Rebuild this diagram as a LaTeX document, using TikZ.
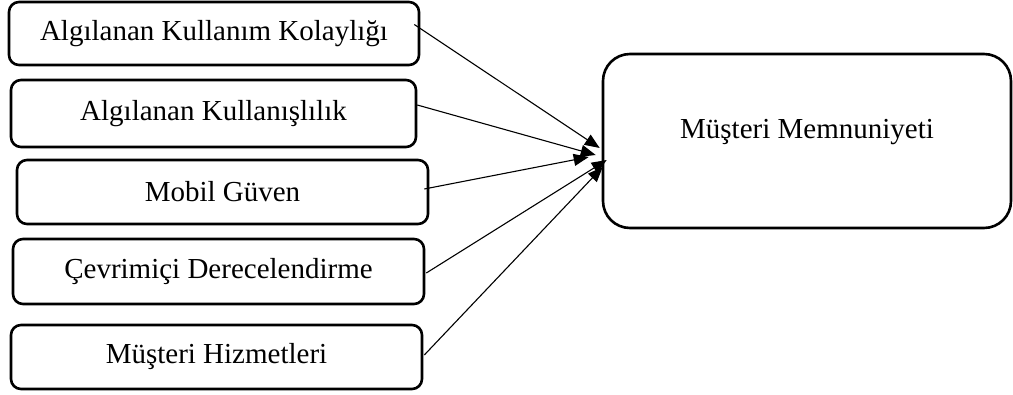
\documentclass[tikz,border=0pt]{standalone}
\usepackage{fontspec}
\setmainfont{Liberation Serif}
\usepackage{tikz}
\usetikzlibrary{arrows.meta, positioning}
\tikzset{
  srcbox/.style={draw=black, line width=2.6pt, rounded corners=10pt,
                 fill=white, minimum width=410pt, minimum height=64pt,
                 inner sep=0pt, font=\fontsize{29}{33}\selectfont},
  tgtbox/.style={draw=black, line width=2.6pt, rounded corners=27pt,
                 fill=white, minimum width=408pt, minimum height=174pt,
                 inner sep=0pt, text depth=24pt,
                 font=\fontsize{29}{33}\selectfont},
  link/.style={draw=black, line width=1.1pt,
               -{Triangle[length=15pt, width=12pt]}},
}
\begin{document}
\begin{tikzpicture}[x=1pt, y=-1pt]
    \useasboundingbox (0,0) rectangle (1013,394);
    %% Factor boxes
    \node[srcbox, minimum width=410pt, minimum height=63pt] (b1) at (214,33.5) {Algılanan Kullanım Kolaylığı};
    \node[srcbox, minimum width=405pt, minimum height=67pt] (b2) at (213.5,113.5) {Algılanan Kullanışlılık};
    \node[srcbox, minimum width=411pt] (b3) at (222.5,192) {Mobil Güven};
    \node[srcbox, minimum width=411pt, minimum height=65pt] (b4) at (218.5,271.5) {Çevrimiçi Derecelendirme};
    \node[srcbox, minimum width=411pt] (b5) at (216.5,357) {Müşteri Hizmetleri};
    %% Outcome box
    \node[tgtbox] (mm) at (807,141) {Müşteri Memnuniyeti};
    %% Arrow ends
    \foreach \i/\sx/\sy/\tx/\ty in {1/-6/9/-2/-7, 2/0/8.5/-6/-14, 3/-5/3/-13/-16,
                                      4/1/-1.5/5/-19, 5/1/2/1/-26}{
      \coordinate (s\i) at ([xshift=\sx pt, yshift=\sy pt]b\i.east);
      \coordinate (t\i) at ([xshift=\tx pt, yshift=\ty pt]mm.west);
    }
    %% Arrows
    \foreach \i in {1,2,3,4,5}{
      \draw[link] (s\i) -- (t\i);
    }
\end{tikzpicture}
\end{document}
